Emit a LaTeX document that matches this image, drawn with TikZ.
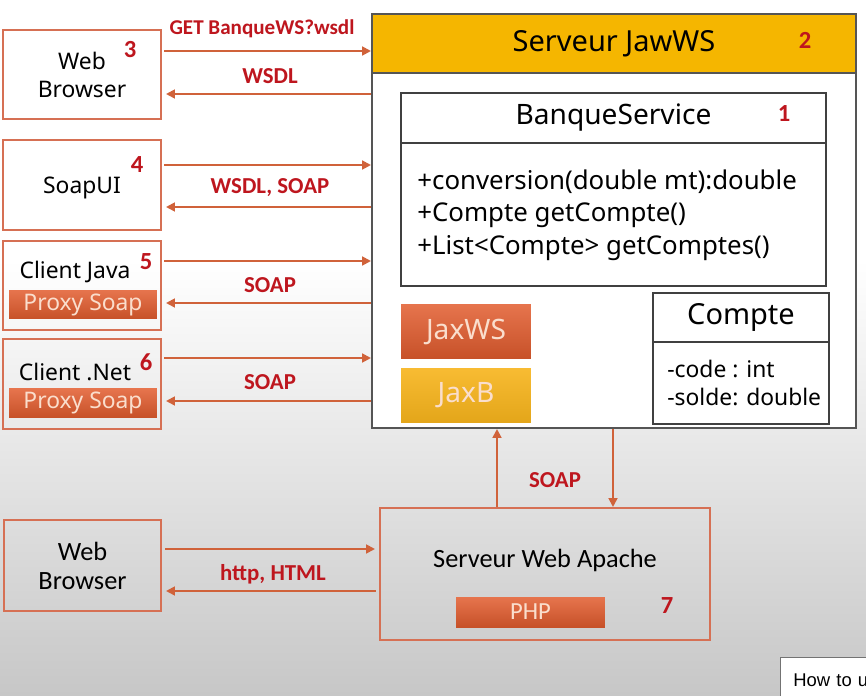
\documentclass[tikz,border=0pt]{standalone}
\usepackage{fontspec}
\setmainfont{Noto Sans}
\newfontfamily\calib{Carlito}
\newfontfamily\tipfont{Liberation Sans}
\usetikzlibrary{arrows.meta}

\definecolor{boxline}{RGB}{214,112,84}
\definecolor{flowcol}{RGB}{208,98,58}
\definecolor{lblred}{RGB}{190,22,30}
\definecolor{headfill}{RGB}{245,182,0}
\definecolor{srvline}{RGB}{85,85,85}
\definecolor{barfill}{RGB}{226,92,46}
\definecolor{bartext}{RGB}{250,222,205}
\definecolor{jaxbfill}{RGB}{247,180,28}

\begin{document}
\begin{tikzpicture}[x=0.02cm, y=-0.02cm,
    box/.style={rectangle, draw=boxline, line width=1.2pt, inner sep=0pt, minimum width=3.16cm},
    uml/.style={rectangle, draw=black!75, line width=1pt, fill=white, inner sep=0pt},
    bar/.style={rectangle, inner sep=0pt, text=bartext, top color=barfill!85!white, bottom color=barfill!88!black},
    flow/.style={draw=flowcol, line width=1.1pt, -{Triangle[length=5pt,width=5pt]}},
    lbl/.style={font=\calib\fontsize{13}{15}\bfseries\selectfont, text=lblred},
    num/.style={font=\calib\fontsize{14}{16}\bfseries\selectfont, text=lblred},
    txt/.style={font=\fontsize{13}{15.5}\selectfont, align=center},
    lowtxt/.style={font=\calib\fontsize{15}{17}\selectfont, align=center}]

        % --- FOND ---
        \useasboundingbox (0,0) rectangle (866,696);
        \fill[white] (0,0) rectangle (866,260);
        \shade[top color=white, middle color=black!6, bottom color=black!22] (0,260) rectangle (866,696);

        % --- CLIENTS ---
        \node (wb1) at (82,74.5) [box, minimum height=1.78cm] {};
        \node (wb1txt) at (82,75) [txt] {Web\\Browser};
        \node (num3) at (130,50) [num] {3};

        \node (soapui) at (82,185) [box, minimum height=1.8cm] {};
        \node (soapuitxt) at (82,188) [txt] {SoapUI};
        \node (num4) at (137,165) [num] {4};

        \node (java) at (82,285.5) [box, minimum height=1.78cm] {};
        \node (javatxt) at (75,272) [txt] {Client Java};
        \node (num5) at (146,262) [num] {5};
        \node (proxy1) at (83,304.5) [bar, minimum width=2.96cm, minimum height=0.58cm, font=\fontsize{13}{15}\selectfont] {Proxy Soap};

        \node (net) at (82,384) [box, minimum height=1.8cm] {};
        \node (nettxt) at (75,372) [txt] {Client .Net};
        \node (num6) at (146,362) [num] {6};
        \node (proxy2) at (83,403) [bar, minimum width=2.96cm, minimum height=0.58cm, font=\fontsize{13}{15}\selectfont] {Proxy Soap};

        % --- SERVEUR JAWWS ---
        \node (server) at (614,221) [rectangle, draw=srvline, line width=1.2pt, fill=white, minimum width=9.68cm, minimum height=8.28cm] {};
        \node (head) at (614,43.5) [rectangle, draw=srvline, line width=1.2pt, fill=headfill, minimum width=9.68cm, minimum height=1.18cm, font=\fontsize{16.5}{19}\selectfont] {Serveur JawWS};
        \node (num2) at (805,40) [num] {2};

        \node (banque) at (613.5,118) [uml, minimum width=8.5cm, minimum height=1.0cm, font=\fontsize{16}{19}\selectfont] {BanqueService};
        \node (num1) at (784,114) [num] {1};
        \node (banquebody) at (613.5,214.5) [uml, minimum width=8.5cm, minimum height=2.86cm] {};
        \node (methods) at (417,215) [anchor=west, align=left, inner sep=0pt, font=\fontsize{14.7}{18.4}\selectfont] {+conversion(double mt):double\\+Compte getCompte()\\+List<Compte> getComptes()};

        \node (compte) at (741,317.5) [uml, minimum width=3.52cm, minimum height=0.98cm, font=\fontsize{16.5}{19}\selectfont] {Compte};
        \node (comptebody) at (741,383) [uml, minimum width=3.52cm, minimum height=1.64cm] {};
        \node (attrs) at (667,383) [anchor=west, align=left, inner sep=0pt, font=\fontsize{13}{16.4}\selectfont] {-code : int\\-solde: double};

        \node (jaxws) at (466,331.5) [bar, minimum width=2.6cm, minimum height=1.1cm, font=\fontsize{16}{18}\selectfont] {JaxWS};
        \node (jaxb) at (466,395.5) [rectangle, inner sep=0pt, text=bartext, top color=jaxbfill!90!white, bottom color=jaxbfill!92!black, minimum width=2.6cm, minimum height=1.1cm, font=\fontsize{16}{18}\selectfont] {JaxB};

        % --- ECHANGES CLIENTS / SERVEUR ---
        \draw[flow] ([yshift=0.47cm,xshift=0.04cm]wb1.east) -- ([yshift=0.47cm]wb1.east -| server.west);
        \draw[flow] ([yshift=-0.39cm]wb1.east -| server.west) -- ([yshift=-0.39cm,xshift=0.08cm]wb1.east);
        \draw[flow] ([yshift=0.40cm,xshift=0.04cm]soapui.east) -- ([yshift=0.40cm]soapui.east -| server.west);
        \draw[flow] ([yshift=-0.44cm]soapui.east -| server.west) -- ([yshift=-0.44cm,xshift=0.08cm]soapui.east);
        \draw[flow] ([yshift=0.49cm,xshift=0.04cm]java.east) -- ([yshift=0.49cm]java.east -| server.west);
        \draw[flow] ([yshift=-0.35cm]java.east -| server.west) -- ([yshift=-0.35cm,xshift=0.08cm]java.east);
        \draw[flow] ([yshift=0.52cm,xshift=0.04cm]net.east) -- ([yshift=0.52cm]net.east -| server.west);
        \draw[flow] ([yshift=-0.34cm]net.east -| server.west) -- ([yshift=-0.34cm,xshift=0.08cm]net.east);

        \node (lget) at (262,29) [lbl, font=\calib\fontsize{12}{14}\bfseries\selectfont] {GET BanqueWS?wsdl};
        \node (lwsdl) at (270,76) [lbl] {WSDL};
        \node (lwsdlsoap) at (270,188) [lbl] {WSDL, SOAP};
        \node (lsoap1) at (270,285) [lbl] {SOAP};
        \node (lsoap2) at (270,382) [lbl] {SOAP};

        % --- SERVEUR WEB APACHE ---
        \node (wb2) at (82.5,565.5) [box, minimum width=3.14cm, minimum height=1.82cm] {};
        \node (wb2txt) at (82.5,566) [lowtxt] {Web\\Browser};
        \node (apache) at (545,574) [box, minimum width=6.6cm, minimum height=2.64cm] {};
        \node (apachetxt) at (545,560) [lowtxt] {Serveur Web Apache};
        \node (php) at (530.5,612) [bar, minimum width=2.98cm, minimum height=0.6cm, font=\calib\fontsize{14}{16}\selectfont] {PHP};
        \node (num7) at (667,606) [num] {7};

        \draw[flow] ([yshift=0.33cm,xshift=0.06cm]wb2.east) -- ([yshift=0.33cm,xshift=-0.08cm]wb2.east -| apache.west);
        \draw[flow] ([yshift=-0.51cm,xshift=-0.06cm]wb2.east -| apache.west) -- ([yshift=-0.51cm,xshift=0.08cm]wb2.east);
        \node (lhttp) at (273,574) [lbl] {http, HTML};

        \draw[flow] ([xshift=-0.96cm]apache.north) -- ([xshift=-0.96cm]apache.north |- server.south);
        \draw[flow] ([xshift=1.36cm]apache.north |- server.south) -- ([xshift=1.36cm]apache.north);
        \node (lsoap3) at (555,480) [lbl] {SOAP};

        % --- INFOBULLE ---
        \node (tip) at (780,657) [anchor=north west, draw=black!55, fill=white, minimum height=0.9cm, text width=1.8cm, inner xsep=0.26cm, align=left, font=\tipfont\fontsize{10.5}{12}\selectfont] {How to u};
\end{tikzpicture}
\end{document}
